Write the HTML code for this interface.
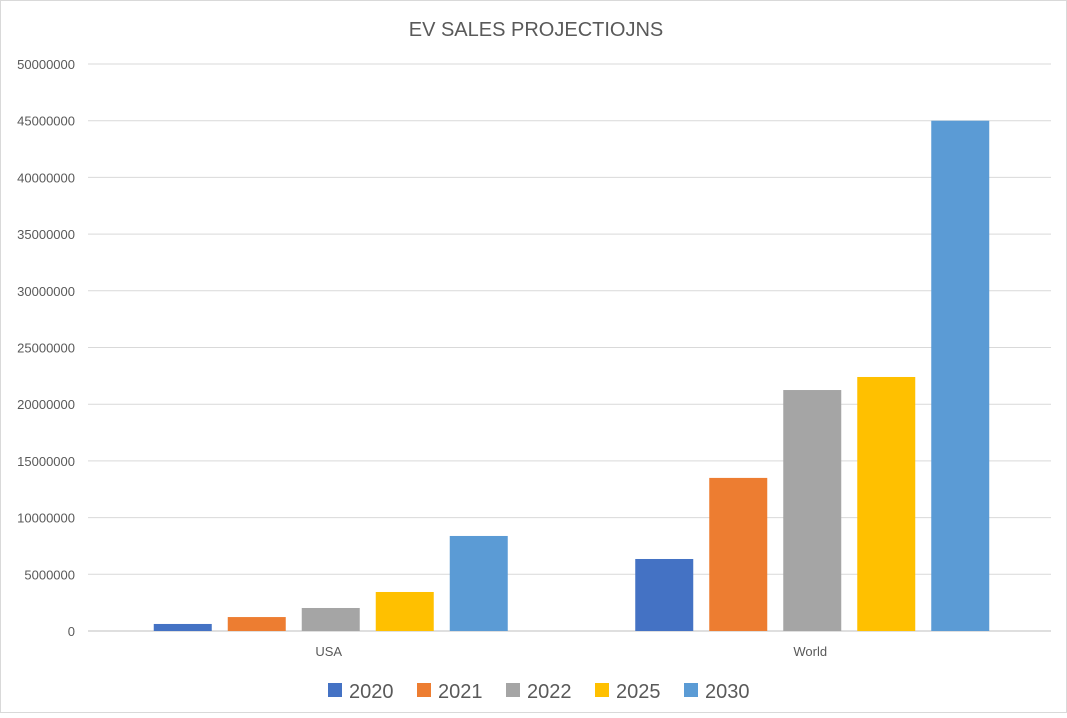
<!DOCTYPE html>
<html><head><meta charset="utf-8"><style>
body{margin:0;background:#fff;font-family:"Liberation Sans",sans-serif}
</style></head><body>
<svg id="chart" width="1067" height="713" xmlns="http://www.w3.org/2000/svg">
<rect x="0.5" y="0.5" width="1066" height="712" fill="#fff" stroke="#d9d9d9"/>
<text x="536" y="36" text-anchor="middle" font-size="20" fill="#595959">EV SALES PROJECTIOJNS</text>
<g id="grid"></g><g id="bars"></g><g id="legend"></g>
</svg>
<script>
const categories=["USA","World"];
const seriesNames=["2020","2021","2022","2025","2030"];
const seriesColors=["#4472c4","#ed7d31","#a5a5a5","#ffc000","#5b9bd5"];
const usaValues=[620000,1230000,2030000,3440000,8380000];
const worldValues=[6350000,13500000,21250000,22400000,45000000];
const yTicks=[0,5000000,10000000,15000000,20000000,25000000,30000000,35000000,40000000,45000000,50000000];
const NS="http://www.w3.org/2000/svg";
const x0=88,x1=1051,y0=631,y1=64,yMax=50000000;
const y=v=>y0-(v/yMax)*(y0-y1);
const catW=(x1-x0)/categories.length;
function mk(t,a,p){const e=document.createElementNS(NS,t);for(const k in a)e.setAttribute(k,a[k]);p.appendChild(e);return e;}
const grid=document.getElementById('grid');
yTicks.forEach(v=>{
 const l=mk('line',{x1:x0,x2:x1,y1:y(v),y2:y(v),stroke:v===0?'#bfbfbf':'#d9d9d9','stroke-width':1},grid);
 
 
 const t=mk('text',{x:75,y:y(v)+5,'text-anchor':'end','font-size':13,fill:'#595959'},grid);
 t.textContent=v;
 
 
});
const bars=document.getElementById('bars');
const data=[usaValues,worldValues];
categories.forEach((c,ci)=>{
 const cx=x0+catW*(ci+0.5);
 data[ci].forEach((v,si)=>{
  const bx=cx+(si-2)*74-27;
  const r=mk('rect',{x:bx,y:y(v),width:58,height:y0-y(v),fill:seriesColors[si]},bars);
  
  
 });
 const t=mk('text',{x:cx,y:656,'text-anchor':'middle','font-size':13,fill:'#595959'},bars);
 t.textContent=c;
 
 
});
const lg=document.getElementById('legend');
seriesNames.forEach((n,i)=>{
 const lx=328+i*89;
 const s=mk('rect',{x:lx,y:683,width:14,height:14,fill:seriesColors[i]},lg);
 
 
 const t=mk('text',{x:lx+21,y:698,'font-size':20,fill:'#595959'},lg);
 t.textContent=n;
 
 
});
</script>
</body></html>
